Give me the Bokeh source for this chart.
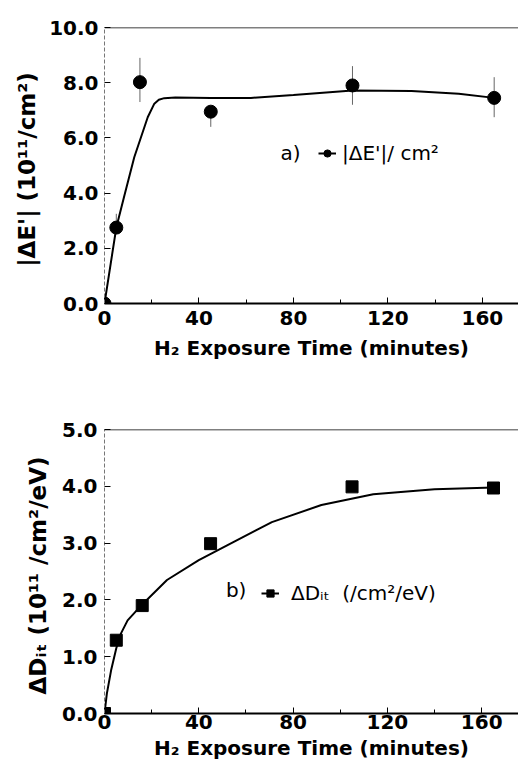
from bokeh.plotting import figure
from bokeh.layouts import column
from bokeh.models import (Range1d, FixedTicker, PrintfTickFormatter, Span, Label,
                          Legend, LegendItem)
from bokeh.embed import file_html
from bokeh.resources import INLINE

# ---- panel a) |dE'| ----
time_a = [0, 5, 15, 45, 105, 165]
dE = [0.0, 2.75, 8.02, 6.95, 7.9, 7.45]
dE_lo = [0.0, 2.75, 7.3, 6.4, 7.2, 6.75]
dE_hi = [0.0, 3.25, 8.9, 6.95, 8.6, 8.2]
fit_a_t = [0, 5, 8.4, 12.6, 18.3, 21.1, 23, 25.3, 30, 45, 62, 80, 105, 130, 150, 165]
fit_a_v = [0, 2.75, 3.9, 5.3, 6.75, 7.24, 7.38, 7.44, 7.46, 7.45, 7.45, 7.55, 7.72, 7.7, 7.6, 7.45]

# ---- panel b) dDit ----
time_b = [0, 5, 16, 45, 105, 165]
dDit = [0.0, 1.29, 1.9, 2.99, 3.99, 3.97]
fit_b_t = [0, 1, 2.8, 5, 7, 9.8, 16, 26.5, 40, 52, 64, 71, 92, 114, 140, 165]
fit_b_v = [0, 0.35, 0.76, 1.15, 1.41, 1.64, 1.92, 2.35, 2.7, 2.96, 3.22, 3.37, 3.67, 3.86, 3.95, 3.98]

x_ticks = [0, 40, 80, 120, 160]
x_minor = [20, 60, 100, 140]
ya_ticks = [0, 2, 4, 6, 8, 10]
yb_ticks = [0, 1, 2, 3, 4, 5]

FONT = "DejaVu Sans"
x_title = "H\u2082 Exposure Time (minutes)"


def style(p, yticks, ytitle, xl_standoff, xt_standoff, yl_standoff, yt_standoff):
    p.xgrid.visible = False
    p.ygrid.visible = False
    p.outline_line_color = None
    p.background_fill_color = "white"
    p.border_fill_color = "white"
    xa = p.xaxis[0]
    xa.ticker = FixedTicker(ticks=x_ticks, minor_ticks=x_minor)
    xa.axis_label = x_title
    xa.axis_line_width = 2
    xa.axis_line_color = "black"
    xa.major_tick_in = 6
    xa.major_tick_out = 0
    xa.minor_tick_in = 4
    xa.minor_tick_out = 0
    xa.major_label_standoff = xl_standoff
    xa.axis_label_standoff = xt_standoff
    ya = p.yaxis[0]
    ya.ticker = FixedTicker(ticks=yticks, minor_ticks=[])
    ya.formatter = PrintfTickFormatter(format="%.1f")
    ya.axis_label = ytitle
    ya.axis_line_dash = "4 2"
    ya.axis_line_color = "#777777"
    ya.axis_line_width = 1
    ya.major_tick_in = 6
    ya.major_tick_out = 0
    ya.major_label_standoff = yl_standoff
    ya.axis_label_standoff = yt_standoff
    for ax in (xa, ya):
        ax.major_label_text_font = FONT
        ax.major_label_text_font_style = "bold"
        ax.major_label_text_font_size = "20px"
        ax.major_label_text_color = "black"
        ax.axis_label_text_font = FONT
        ax.axis_label_text_font_style = "bold"
        ax.axis_label_text_color = "black"
        ax.major_tick_line_color = "black"
    xa.axis_label_text_font_size = "20px"
    ya.axis_label_text_font_size = "23px"


# ---------- top figure ----------
p1 = figure(width=518, height=365, x_range=Range1d(0, 175.3), y_range=Range1d(0, 10),
            output_backend="svg", toolbar_location=None,
            min_border_left=104, min_border_right=0, min_border_top=27, min_border_bottom=62)
style(p1, ya_ticks, "|\u0394E'|  (10\u00b9\u00b9/cm\u00b2)", 7, 8, 6, 6)
p1.add_layout(Span(location=10, dimension="width", line_color="black", line_width=1.5))
p1.segment(x0=time_a, y0=dE_lo, x1=time_a, y1=dE_hi, line_color="#666666", line_width=1)
la = p1.line(fit_a_t, fit_a_v, line_color="black", line_width=2)
sa = p1.scatter(time_a, dE, marker="circle", size=13, fill_color="black", line_color="black")
p1.add_layout(Label(x=74.5, y=5.45, text="a)", text_font=FONT, text_font_size="20px",
                    text_baseline="middle", text_color="black"))
leg1 = Legend(items=[LegendItem(label="|\u0394E'|/ cm\u00b2", renderers=[la, sa])],
              location=(214, 138), orientation="vertical",
              border_line_color=None, background_fill_alpha=0,
              padding=0, margin=0, spacing=0, glyph_width=18, glyph_height=22,
              label_standoff=6, label_text_font=FONT, label_text_font_size="20px",
              label_text_color="black")
p1.add_layout(leg1, "center")

# ---------- bottom figure ----------
p2 = figure(width=518, height=399, x_range=Range1d(0, 175.6), y_range=Range1d(0, 5),
            output_backend="svg", toolbar_location=None,
            min_border_left=96, min_border_right=0, min_border_top=64, min_border_bottom=51)
style(p2, yb_ticks, "\u0394D\u1d62\u209c  (10\u00b9\u00b9 /cm\u00b2/eV)", 1, 4, 7, 8)
p2.add_layout(Span(location=5, dimension="width", line_color="black", line_width=1.5))
lb = p2.line(fit_b_t, fit_b_v, line_color="black", line_width=2)
sb = p2.scatter(time_b, dDit, marker="square", size=12, fill_color="black", line_color="black")
p2.add_layout(Label(x=51.5, y=2.17, text="b)", text_font=FONT, text_font_size="20px",
                    text_baseline="middle", text_color="black"))
leg2 = Legend(items=[LegendItem(label="\u0394D\u1d62\u209c  (/cm\u00b2/eV)", renderers=[lb, sb])],
              location=(157, 108), orientation="vertical",
              border_line_color=None, background_fill_alpha=0,
              padding=0, margin=0, spacing=0, glyph_width=18, glyph_height=22,
              label_standoff=12, label_text_font=FONT, label_text_font_size="20px",
              label_text_color="black")
p2.add_layout(leg2, "center")

layout = column(p1, p2, spacing=0)
open("out.html", "w").write(file_html(layout, INLINE))
